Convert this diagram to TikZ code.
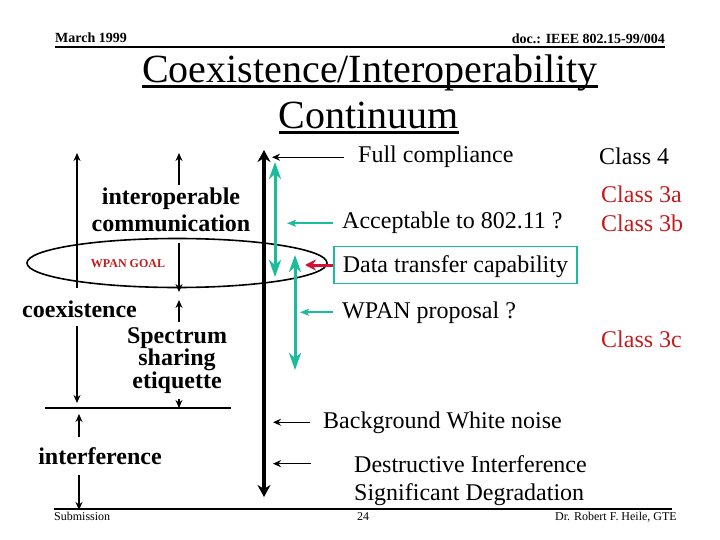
\documentclass[tikz,border=0pt]{standalone}
\usepackage{fontspec}
\setmainfont{Liberation Serif}
\usetikzlibrary{arrows.meta,positioning}
\definecolor{wpangreen}{RGB}{26,188,156}
\definecolor{wpanred}{RGB}{214,16,52}
\definecolor{classred}{RGB}{196,28,28}
\tikzset{
  txt/.style={inner sep=0pt,font=\fontsize{24}{28}\selectfont},
  boldtxt/.style={inner sep=0pt,font=\fontsize{24}{28}\selectfont\bfseries},
  headtxt/.style={inner sep=0pt,font=\fontsize{14}{16}\selectfont\bfseries},
  foottxt/.style={inner sep=0pt,font=\fontsize{12}{14}\selectfont},
  thinarrow/.style={line width=1.4pt,-{Stealth[length=8pt,width=7pt]}},
  greenarrow/.style={draw=wpangreen,line width=1.6pt,-{Stealth[length=9pt,width=7pt,inset=2pt]}},
  greenbiarrow/.style={draw=wpangreen,line width=3pt,{Stealth[length=17pt,width=12pt,inset=5pt]}-{Stealth[length=17pt,width=12pt,inset=5pt]}},
  axisarrow/.style={line width=4pt,-{Stealth[length=12pt,width=13pt]}},
  redarrow/.style={draw=wpanred,line width=3pt,-{Stealth[length=11pt,width=11pt]}}
}
\begin{document}
\begin{tikzpicture}[x=1pt,y=1pt,yscale=-1]
\useasboundingbox (0,0) rectangle (720,540);
\fill[white] (0,0) rectangle (720,540);

% header and footer
\node[headtxt,anchor=base west] (month) at (55,43) {March 1999};
\node[headtxt,anchor=base east] (docno) at (665,44) {doc.: IEEE 802.15-99/004};
\draw[line width=2pt] (55,47.5) -- (665,47.5);
\draw[line width=2pt] (54,509) -- (672,509);
\node[foottxt,anchor=base west] (subm) at (54,520) {Submission};
\node[foottxt,anchor=base west] (page) at (357,520) {24};
\node[foottxt,anchor=base east] (author) at (677,520) {Dr. Robert F. Heile, GTE};

% title
\node[inner sep=0pt,font=\fontsize{40}{46}\selectfont,anchor=base] (title1) at (370,83) {Coexistence/Interoperability};
\node[inner sep=0pt,font=\fontsize{40}{46}\selectfont,anchor=base] (title2) at (369,129) {Continuum};
\draw[line width=3pt] ([yshift=4pt]title1.base west) -- ([yshift=4pt]title1.base east);
\draw[line width=3pt] ([yshift=4pt]title2.base west) -- ([yshift=4pt]title2.base east);

% left column labels
\node[boldtxt,anchor=base] (interop) at (171,205) {interoperable};
\node[boldtxt,anchor=base] (commun) at (171,232) {communication};
\node[inner sep=0pt,font=\fontsize{12}{14}\selectfont\bfseries,text=classred,anchor=base] (goal) at (128,267) {WPAN GOAL};
\node[boldtxt,anchor=base west] (coex) at (22,317) {coexistence};
\node[boldtxt,anchor=base] (spec) at (177,343) {Spectrum};
\node[boldtxt,anchor=base] (shar) at (177,365) {sharing};
\node[boldtxt,anchor=base] (etiq) at (177,388) {etiquette};
\node[boldtxt,anchor=base] (interf) at (100,464) {interference};

% WPAN goal ellipse
\draw[line width=1.6pt] (177,263) ellipse [x radius=150,y radius=24.5];

% end points of the left arrows
\coordinate (coexTop) at (77,153);
\coordinate (coexLow) at (77,288);
\coordinate (coexStart) at (77,326);
\coordinate (coexEnd) at (77,403);
\coordinate (specTop) at (179,153);
\coordinate (specA) at (179,185);
\coordinate (specB) at (179,243);
\coordinate (specC) at (179,292);
\coordinate (specD) at (179,322);
\coordinate (specE) at (179,300);
\coordinate (specF) at (179,399);
\coordinate (specG) at (179,408);
\coordinate (levelL) at (45,408);
\coordinate (levelR) at (231,408);
\coordinate (intA) at (79,437);
\coordinate (intB) at (79,414);
\coordinate (intC) at (79,475);
\coordinate (intD) at (79,510);

\draw[thinarrow] (coexLow) -- (coexTop);
\draw[thinarrow] (coexStart) -- (coexEnd);
\draw[thinarrow] (specA) -- (specTop);
\draw[thinarrow] (specB) -- (specC);
\draw[thinarrow] (specD) -- (specE);
\draw[thinarrow] (specF) -- (specG);
\draw[line width=2pt] (levelL) -- (levelR);
\draw[thinarrow] (intA) -- (intB);
\draw[thinarrow] (intC) -- (intD);

% main axis
\coordinate (axtop) at (264,150);
\coordinate (axmid) at (264,402);
\coordinate (axbot) at (264,497);
\draw[axisarrow] (axmid) -- (axtop);
\draw[axisarrow] (axmid) -- (axbot);

% green ranges
\coordinate (rangeAtop) at (275,162);
\coordinate (rangeAbot) at (275,277);
\coordinate (rangeBtop) at (295,255);
\coordinate (rangeBbot) at (295,370);
\draw[greenbiarrow] (rangeAtop) -- (rangeAbot);
\draw[greenbiarrow] (rangeBtop) -- (rangeBbot);

% right column labels
\node[txt,anchor=base west] (full) at (358,163) {Full compliance};
\node[txt,anchor=base west] (accept) at (342,229) {Acceptable to 802.11 ?};
\node[txt,anchor=base west,draw=wpangreen,line width=1.6pt,inner xsep=9pt,inner ysep=8.5pt,text height=17pt,text depth=3pt] (datatr) at (333,272) {Data transfer capability};
\node[txt,anchor=base west] (prop) at (342,318) {WPAN proposal ?};
\node[txt,anchor=base west] (bgnoise) at (323,428) {Background White noise};
\node[txt,anchor=base west] (destr) at (354,472) {Destructive Interference};
\node[txt,anchor=base west] (signif) at (354,500) {Significant Degradation};

% classes
\node[txt,anchor=base west] (cls4) at (599,165) {Class 4};
\node[txt,anchor=base west,text=classred] (cls3a) at (601,203) {Class 3a};
\node[txt,anchor=base west,text=classred] (cls3b) at (601,231) {Class 3b};
\node[txt,anchor=base west,text=classred] (cls3c) at (601,347) {Class 3c};

% pointers to the axis
\draw[thinarrow] ([xshift=-14pt]full.west) -- ([xshift=-86pt]full.west);
\draw[greenarrow] ([xshift=-9pt]accept.west) -- ([xshift=-55pt]accept.west);
\draw[redarrow] (datatr.west) -- ([xshift=-28pt]datatr.west);
\draw[greenarrow] ([xshift=-9pt]prop.west) -- ([xshift=-42pt]prop.west);
\draw[thinarrow] ([xshift=-13pt]bgnoise.west) -- ([xshift=-50pt]bgnoise.west);
\draw[thinarrow] ([xshift=-43pt]destr.west) -- ([xshift=-81pt]destr.west);

\end{tikzpicture}
\end{document}
